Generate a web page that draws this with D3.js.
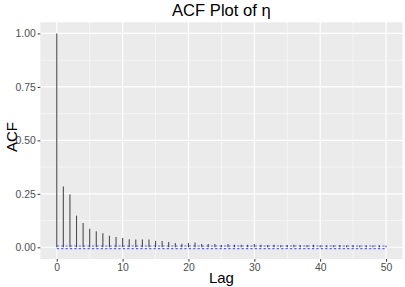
<!DOCTYPE html>
<html><head><meta charset="utf-8">
<script src="https://cdn.jsdelivr.net/npm/d3@7"></script>
<style>body{margin:0;background:#fff}svg{display:block}text{font-family:"Liberation Sans",Arial,sans-serif}</style>
</head><body>
<script>
const lags = d3.range(0, 51);
const acfValues = [1, 0.284, 0.247, 0.148, 0.114, 0.087, 0.075, 0.066, 0.054, 0.048, 0.044, 0.038, 0.036, 0.036, 0.036, 0.030, 0.030, 0.025, 0.020, 0.017, 0.020, 0.022, 0.016, 0.015, 0.015, 0.011, 0.015, 0.012, 0.012, 0.012, 0.015, 0.012, 0.011, 0.012, 0.010, 0.011, 0.012, 0.010, 0.011, 0.012, 0.010, 0.009, 0.010, 0.011, 0.009, 0.010, 0.008, 0.009, 0.008, 0.008, 0.007];
const confBound = 0.0062;
const xTicks = [0, 10, 20, 30, 40, 50];
const xMinor = [5, 15, 25, 35, 45];
const yTicks = [0, 0.25, 0.5, 0.75, 1];
const yMinor = [0.125, 0.375, 0.625, 0.875];
const title = "ACF Plot of η", xTitle = "Lag", yTitle = "ACF";

const W = 405, H = 287;
const P = {l: 40.3, r: 402.5, t: 22.3, b: 259};
const svg = d3.select("body").append("svg").attr("width", W).attr("height", H);
const x = d3.scaleLinear().domain([-2.5, 52.5]).range([P.l, P.r]);
const y = d3.scaleLinear().domain([-0.0547, 1.052]).range([P.b, P.t]);

svg.append("rect").attr("x", P.l).attr("y", P.t).attr("width", P.r - P.l).attr("height", P.b - P.t).attr("fill", "#EBEBEB");
const g = svg.append("g");
g.selectAll(".ymin").data(yMinor).join("line").attr("x1", P.l).attr("x2", P.r).attr("y1", d => y(d)).attr("y2", d => y(d)).attr("stroke", "#fff").attr("stroke-width", 0.55);
g.selectAll(".xmin").data(xMinor).join("line").attr("y1", P.t).attr("y2", P.b).attr("x1", d => x(d)).attr("x2", d => x(d)).attr("stroke", "#fff").attr("stroke-width", 0.55);
g.selectAll(".ymaj").data(yTicks).join("line").attr("x1", P.l).attr("x2", P.r).attr("y1", d => y(d)).attr("y2", d => y(d)).attr("stroke", "#fff").attr("stroke-width", 1.1);
g.selectAll(".xmaj").data(xTicks).join("line").attr("y1", P.t).attr("y2", P.b).attr("x1", d => x(d)).attr("x2", d => x(d)).attr("stroke", "#fff").attr("stroke-width", 1.1);

// bars
svg.selectAll(".bar").data(lags).join("line")
  .attr("x1", d => x(d)).attr("x2", d => x(d))
  .attr("y1", y(0)).attr("y2", (d, i) => y(acfValues[i]))
  .attr("stroke", "#4d4d4d").attr("stroke-width", 1.1);

// confidence lines
[confBound, -confBound].forEach(v => {
  svg.append("line").attr("x1", x(0)).attr("x2", x(50)).attr("y1", y(v)).attr("y2", y(v))
    .attr("stroke", "blue").attr("stroke-opacity", 0.6).attr("stroke-width", 1.1).attr("stroke-dasharray", "2.2,2.2");
});

// axes
const xa = svg.append("g").attr("transform", `translate(0,${P.b})`)
  .call(d3.axisBottom(x).tickValues(xTicks).tickSize(2.7).tickPadding(2).tickFormat(d3.format("d")));
const ya = svg.append("g").attr("transform", `translate(${P.l},0)`)
  .call(d3.axisLeft(y).tickValues(yTicks).tickSize(2.7).tickPadding(1.8).tickFormat(d3.format(".2f")));
[xa, ya].forEach(a => {
  a.select(".domain").remove();
  a.selectAll(".tick line").attr("stroke", "#333").attr("stroke-width", 1);
  a.selectAll(".tick text").attr("fill", "#4D4D4D").style("font-size", "10.4px");
});

svg.append("text").attr("x", (P.l + P.r) / 2).attr("y", 16).attr("text-anchor", "middle").style("font-size", "16.6px").attr("fill", "#000").text(title);
svg.append("text").attr("x", (P.l + P.r) / 2).attr("y", 283).attr("text-anchor", "middle").style("font-size", "15px").attr("fill", "#000").text(xTitle);
svg.append("text").attr("transform", `translate(16.5,137) rotate(-90)`).attr("text-anchor", "middle").style("font-size", "15px").attr("fill", "#000").text(yTitle);
</script>
</body></html>
